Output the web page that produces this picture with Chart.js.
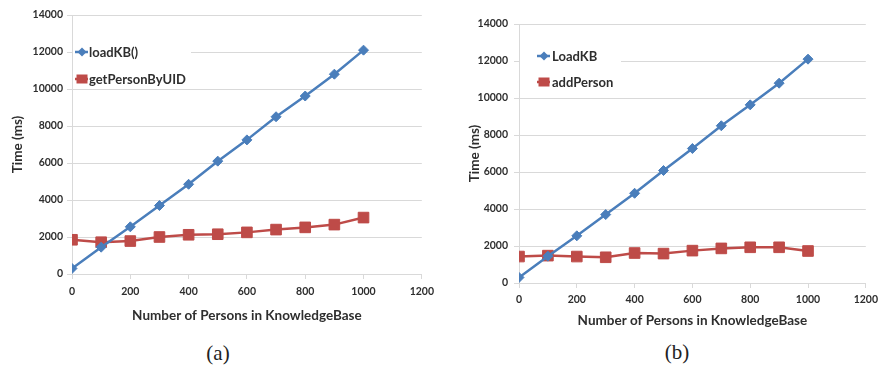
<!DOCTYPE html>
<html>
<head>
<meta charset="utf-8">
<script src="https://cdn.jsdelivr.net/npm/chart.js@4.4.1/dist/chart.umd.min.js"></script>
<style>
  html, body { margin: 0; padding: 0; background: #fff; width: 883px; height: 365px; overflow: hidden; }
  canvas { position: absolute; top: 0; }
  #chartA { left: 0; }
  #chartB { left: 440px; }
  .cap { position: absolute; font-family: "Liberation Serif", "DejaVu Serif", serif; font-size: 21px; color: #222;
         transform: translate(-50%, -50%); line-height: 1; }
</style>
</head>
<body>
<canvas id="chartA" width="440" height="330"></canvas>
<canvas id="chartB" width="443" height="335"></canvas>
<div class="cap" style="left:218px; top:353px;">(a)</div>
<div class="cap" style="left:677px; top:352px;">(b)</div>
<script>
// Number of persons in the knowledge base (x values)
const persons = [0, 100, 200, 300, 400, 500, 600, 700, 800, 900, 1000];

// (a) load time vs. lookup time, in ms
const loadKbA = [300, 1450, 2550, 3700, 4850, 6100, 7250, 8500, 9620, 10800, 12100];
const getPersonByUid = [1850, 1720, 1780, 2000, 2120, 2150, 2250, 2400, 2520, 2670, 3050];

// (b) load time vs. insert time, in ms
const loadKbB = [300, 1450, 2550, 3700, 4850, 6080, 7270, 8500, 9630, 10800, 12100];
const addPerson = [1430, 1480, 1430, 1390, 1620, 1590, 1750, 1870, 1930, 1930, 1730];

const seriesNamesA = ['loadKB()', 'getPersonByUID'];
const seriesNamesB = ['LoadKB', 'addPerson'];

const xTitle = 'Number of Persons in KnowledgeBase';
const yTitle = 'Time (ms)';

const BLUE = '#4a7ebb';
const RED = '#be4b48';
const TEXT = '#2e2e2e';
const GRID = '#d9d9d9';
const FONT = 'Lato, "Open Sans", sans-serif';

const toPoints = (ys) => persons.map((x, i) => ({ x, y: ys[i] }));

// Inline key drawn inside the plot area, on a white patch over the grid
const keyBox = {
  id: 'keyBox',
  beforeDatasetsDraw(chart, args, o) {
    const { ctx, chartArea } = chart;
    const left = chartArea.left, top = chartArea.top;
    ctx.save();
    ctx.fillStyle = '#fff';
    ctx.fillRect(left + 1, top + o.boxTop, o.boxWidth, o.boxHeight);
    chart.data.datasets.forEach((ds, i) => {
      const y = top + o.rowY[i];
      const mx = left + o.markerX;
      ctx.strokeStyle = ds.borderColor;
      ctx.fillStyle = ds.borderColor;
      ctx.lineWidth = 2.5;
      ctx.beginPath();
      ctx.moveTo(mx - 7, y);
      ctx.lineTo(mx + 6, y);
      ctx.stroke();
      ctx.beginPath();
      if (ds.pointStyle === 'rectRot') {
        const r = 4.5;
        ctx.moveTo(mx, y - r); ctx.lineTo(mx + r, y); ctx.lineTo(mx, y + r); ctx.lineTo(mx - r, y);
      } else {
        ctx.rect(mx - 5.5, y - 4.5, 11, 9);
      }
      ctx.closePath();
      ctx.fill();
      ctx.font = 'bold 13px ' + FONT;
      ctx.fillStyle = TEXT;
      ctx.textBaseline = 'middle';
      ctx.textAlign = 'left';
      ctx.fillText(ds.label, left + o.textX, y + 1);
    });
    ctx.restore();
  }
};

function makeChart(id, names, blueData, redData, geo) {
  return new Chart(document.getElementById(id), {
    type: 'line',
    data: {
      datasets: [
        {
          label: names[0], data: toPoints(blueData),
          borderColor: BLUE, backgroundColor: BLUE, borderWidth: 2.5,
          pointStyle: 'rectRot', pointRadius: 5, pointBorderWidth: 1,
          pointBackgroundColor: BLUE, pointBorderColor: BLUE, tension: 0
        },
        {
          label: names[1], data: toPoints(redData),
          borderColor: RED, backgroundColor: RED, borderWidth: 2.5,
          pointStyle: 'rect', pointRadius: 7.5, pointBorderWidth: 1,
          pointBackgroundColor: RED, pointBorderColor: RED, tension: 0
        }
      ]
    },
    options: {
      responsive: false,
      animation: false,
      events: [],
      layout: { padding: geo.padding },
      plugins: {
        legend: { display: false },
        tooltip: { enabled: false },
        keyBox: geo.key
      },
      scales: {
        x: {
          type: 'linear', min: 0, max: 1200,
          ticks: { stepSize: 200, format: { useGrouping: false }, color: TEXT,
                   font: { family: FONT, size: 10.5, weight: 'bold' }, padding: geo.xTickPad, maxRotation: 0 },
          grid: { drawOnChartArea: false, drawTicks: true, tickLength: 5, color: GRID, tickColor: GRID },
          border: { display: true, color: GRID, width: 1 },
          title: { display: true, text: xTitle, color: TEXT, font: { family: FONT, size: 13.5, weight: 'bold' }, padding: 0 },
          afterFit: (s) => { s.height = geo.xHeight; }
        },
        y: {
          min: 0, max: 14000,
          ticks: { stepSize: 2000, format: { useGrouping: false }, color: TEXT,
                   font: { family: FONT, size: 10.5, weight: 'bold' }, padding: geo.yTickPad },
          grid: { drawTicks: true, tickLength: 5, color: GRID, tickColor: GRID },
          border: { display: true, color: GRID, width: 1 },
          title: { display: true, text: yTitle, color: TEXT, font: { family: FONT, size: 13.5, weight: 'bold' }, padding: 0 },
          afterFit: (s) => { s.width = geo.yWidth; }
        }
      }
    },
    plugins: [keyBox]
  });
}

makeChart('chartA', seriesNamesA, loadKbA, getPersonByUid, {
  padding: { left: 10, right: 18, top: 15, bottom: 6 },
  xHeight: 50, yWidth: 62, xTickPad: 6, yTickPad: 4,
  key: { boxTop: 20, boxWidth: 118, boxHeight: 51, markerX: 10, textX: 17, rowY: [37, 64] }
});

makeChart('chartB', seriesNamesB, loadKbB, addPerson, {
  padding: { left: 27, right: 12, top: 24, bottom: 6 },
  xHeight: 46, yWidth: 52, xTickPad: 5, yTickPad: 6,
  key: { boxTop: 18, boxWidth: 101, boxHeight: 55, markerX: 25, textX: 33, rowY: [32, 58] }
});
</script>
</body>
</html>
